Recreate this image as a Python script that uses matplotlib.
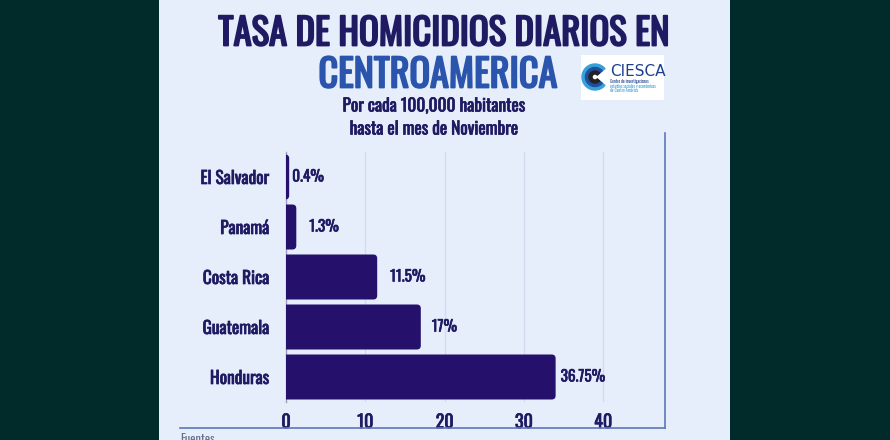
import matplotlib
matplotlib.use("Agg")
import matplotlib.pyplot as plt
from matplotlib.patches import Rectangle, FancyBboxPatch, Wedge
from matplotlib.lines import Line2D
import matplotlib.patheffects as pe

# ---- data ----
countries = ["El Salvador", "Panamá", "Costa Rica", "Guatemala", "Honduras"]
bar_values = [0.4, 1.3, 11.5, 17, 34]          # bar lengths as drawn
value_labels = ["0.4%", "1.3%", "11.5%", "17%", "36.75%"]
xticks = [0, 10, 20, 30, 40]

title1 = "TASA DE HOMICIDIOS DIARIOS EN"
title2 = "CENTROAMERICA"
subtitle1 = "Por cada 100,000 habitantes"
subtitle2 = "hasta el mes de Noviembre"

FONT = ["Oswald", "Fjalla One", "Roboto Condensed", "DejaVu Sans"]
plt.rcParams["font.family"] = FONT

W, H = 890, 440
DARK_BG = "#012a2a"
PANEL = "#e6eefc"
NAVY = "#1f1a62"
BAR = "#25106b"
BLUE = "#2b55ad"
GRID = "#d3dbee"

def bold(color, lw):
    return [pe.withStroke(linewidth=lw, foreground=color)]

fig = plt.figure(figsize=(W / 100, H / 100), dpi=100, facecolor=DARK_BG)

def fx(px):
    return px / W

def fy(py):
    return 1 - py / H

# panel
fig.patches.append(Rectangle((fx(159), 0), fx(730 - 159), 1, transform=fig.transFigure,
                             facecolor=PANEL, edgecolor="none", zorder=-5))
# frame lines
fig.lines.append(Line2D([fx(665), fx(665)], [fy(133), fy(428)], transform=fig.transFigure,
                        color="#5d78b8", lw=1.2, zorder=1))
fig.lines.append(Line2D([fx(180), fx(665)], [fy(428), fy(428)], transform=fig.transFigure,
                        color="#5d78b8", lw=1.2, zorder=1))

# titles
fig.text(fx(444), fy(34), title1, ha="center", va="center", fontsize=26.5,
         color=NAVY, path_effects=bold(NAVY, 1.3))
fig.text(fx(438), fy(75), title2, ha="center", va="center", fontsize=27.5,
         color=BLUE, path_effects=bold(BLUE, 1.3))
fig.text(fx(434), fy(106), subtitle1, ha="center", va="center", fontsize=12.5,
         color=NAVY, path_effects=bold(NAVY, 0.5))
fig.text(fx(434), fy(129), subtitle2, ha="center", va="center", fontsize=12.5,
         color=NAVY, path_effects=bold(NAVY, 0.5))
fig.text(fx(180), fy(433), "Fuentes", ha="left", va="top", fontsize=9, color="#6a7090")

# logo
lax = fig.add_axes([fx(581), fy(100), fx(664 - 581), fy(55) - fy(100)])
lax.set_xlim(0, 83)
lax.set_ylim(0, 45)
lax.set_facecolor("white")
for s in lax.spines.values():
    s.set_visible(False)
lax.set_xticks([])
lax.set_yticks([])
cx, cy = 14, 23
for r, w, c in [(13, 3, "#3aa0d8"), (9.5, 3, "#1f4fa0"), (6, 3, "#222222")]:
    lax.add_patch(Wedge((cx, cy), r, 40, 320, width=w, color=c))
lax.text(29, 28, "CIESCA", fontsize=11, color="#1d3f8f", va="center", ha="left",
         family=["DejaVu Sans"])
lax.text(29, 18, "Centro de investigaciones", fontsize=3, color="#1d3f8f", va="center", ha="left")
lax.text(29, 14, "estudios sociales y económicos", fontsize=3, color="#3aa0d8", va="center", ha="left")
lax.text(29, 10, "de Centro América", fontsize=3, color="#3aa0d8", va="center", ha="left")

# main axes
ax = fig.add_axes([fx(286), fy(402), fx(665 - 286), fy(152) - fy(402)])
ax.set_facecolor("none")
y = list(range(len(countries)))
bars = ax.barh(y, bar_values, height=0.9, color=BAR)
ax.set_xlim(0, (665 - 286) / 7.93)
ax.set_ylim(4.5, -0.5)

# rounded bar ends
x_per_px = ax.get_xlim()[1] / (665 - 286)
y_per_px = 5 / 250
for b in bars:
    b.set_visible(False)
    p = FancyBboxPatch((b.get_x() - 1, b.get_y()), b.get_width() + 1, b.get_height(),
                       boxstyle="round,pad=0,rounding_size=0.5",
                       mutation_aspect=y_per_px / x_per_px,
                       facecolor=BAR, edgecolor="none", zorder=3)
    ax.add_patch(p)

offsets = [3, 13, 13, 11, 5]
for b, lab, off in zip(bars, value_labels, offsets):
    ax.annotate(lab, (b.get_width(), b.get_y() + b.get_height() / 2),
                xytext=(off * 0.72, 0), textcoords="offset points",
                ha="left", va="center", fontsize=11, color=NAVY,
                path_effects=bold(NAVY, 0.45))

ax.set_yticks(y)
ax.set_yticklabels(countries, fontsize=12.5, color=NAVY)
ax.set_xticks(xticks)
ax.set_xticklabels([str(t) for t in xticks], fontsize=13, color=NAVY)
for lab in ax.get_yticklabels() + ax.get_xticklabels():
    lab.set_path_effects(bold(NAVY, 0.5))
ax.tick_params(axis="both", length=0)
ax.tick_params(axis="y", pad=12)
ax.tick_params(axis="x", pad=8)
for k, s in ax.spines.items():
    s.set_visible(False)
ax.spines["left"].set_visible(True)
ax.spines["left"].set_color("#9aa0b5")
ax.spines["left"].set_linewidth(1)
for t in xticks[1:]:
    ax.axvline(t, color=GRID, lw=1, zorder=1)

fig.savefig("out.png", dpi=100, facecolor=DARK_BG)
